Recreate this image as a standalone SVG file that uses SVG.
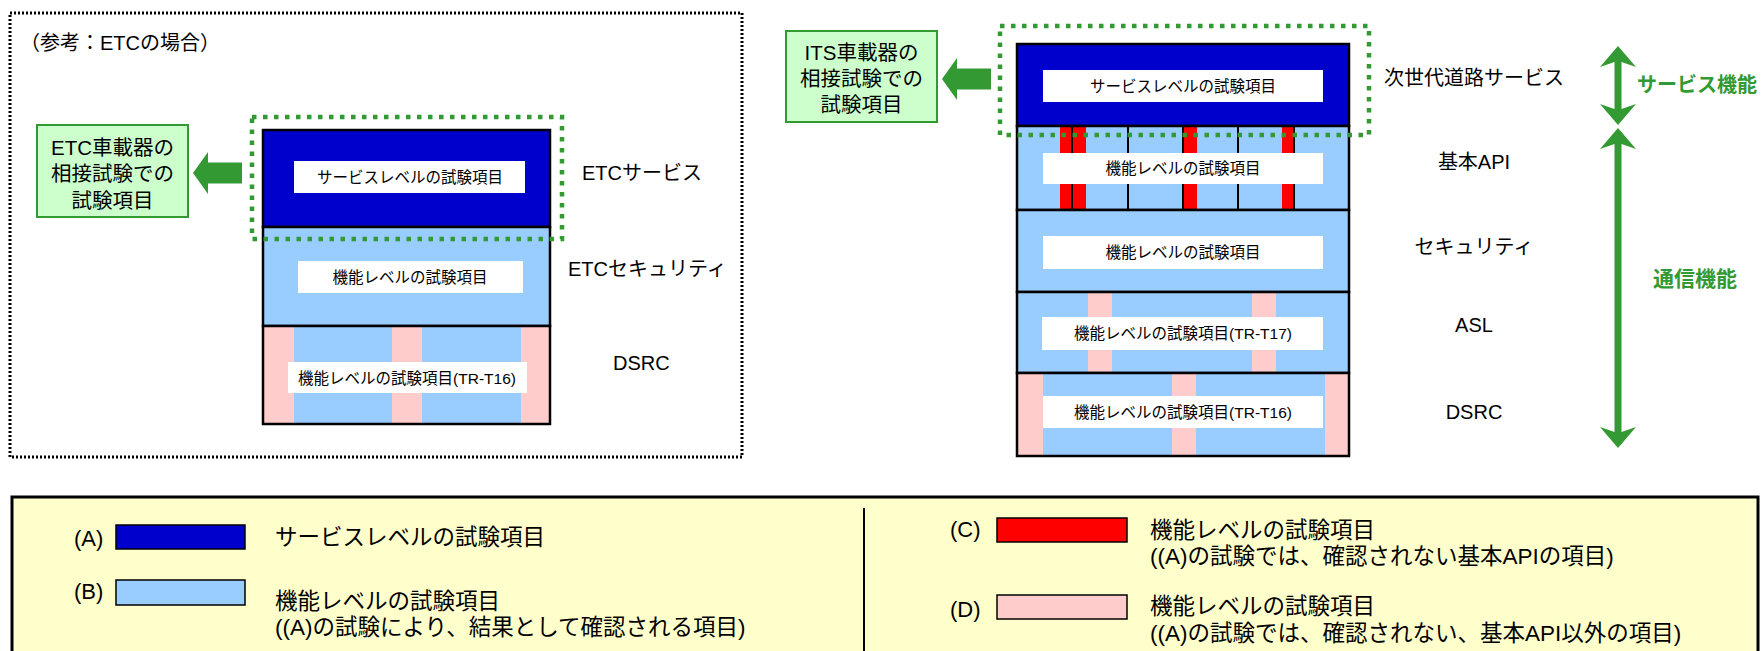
<svg xmlns="http://www.w3.org/2000/svg" width="1762" height="651" viewBox="0 0 1762 651">
<style>
text{font-family:"Liberation Sans","Noto Sans CJK JP",sans-serif;fill:#000;dominant-baseline:central}
.t16{font-size:15.5px;text-anchor:middle}
.lab{font-size:20px}
.mid{text-anchor:middle}
.box{stroke:#000;stroke-width:2.5}
.ol{fill:none;stroke:#000;stroke-width:2.5}
.vl{stroke:#000;stroke-width:2}
.dblue{fill:#0000cc}
.lblue{fill:#99ccff}
.red{fill:#ff0000}
.pink{fill:#ffcccc}
.white{fill:#ffffff}
.gdot{fill:none;stroke:#339933;stroke-width:4.5;stroke-dasharray:4.5 6.5}
.garrow{fill:#339933}
.gbox{fill:#ccffcc;stroke:#339933;stroke-width:2}
.gtext{font-size:20.5px;text-anchor:middle}
.leg{font-size:22.5px}
.key{font-size:22px}
.sw{stroke:#000;stroke-width:1.5}
.green{fill:#339933;font-weight:bold}
</style>

<!-- Left panel (ETC reference) -->
<g id="etc-panel">
  <rect x="10" y="13" width="732" height="444" fill="none" stroke="#000" stroke-width="3" stroke-dasharray="2 2"/>
  <text x="20" y="43" style="font-size:20px">（参考：ETCの場合）</text>
</g>

<g id="etc-test-box">
  <rect class="gbox" x="37" y="125" width="151" height="92"/>
  <text class="gtext" x="112.5" y="147">ETC車載器の</text>
  <text class="gtext" x="112.5" y="173">相接試験での</text>
  <text class="gtext" x="112.5" y="200">試験項目</text>
</g>

<g id="etc-service">
  <rect class="box dblue" x="263" y="130" width="287" height="97"/>
  <rect class="white" x="294" y="161" width="231" height="32"/>
  <text class="t16" x="410" y="177">サービスレベルの試験項目</text>
  <text class="lab" x="582" y="173">ETCサービス</text>
</g>

<g id="etc-security">
  <rect class="box lblue" x="263" y="227" width="287" height="99"/>
  <rect class="white" x="298" y="261" width="225" height="32"/>
  <text class="t16" x="410" y="277">機能レベルの試験項目</text>
  <text class="lab" x="568" y="269">ETCセキュリティ</text>
</g>

<g id="etc-dsrc">
  <rect class="lblue" x="263" y="326" width="287" height="98"/>
  <rect class="pink" x="263" y="326" width="31" height="98"/>
  <rect class="pink" x="392" y="326" width="30" height="98"/>
  <rect class="pink" x="521" y="326" width="29" height="98"/>
  <rect class="ol" x="263" y="326" width="287" height="98"/>
  <rect class="white" x="288" y="362" width="239" height="31"/>
  <text class="t16" x="407" y="378">機能レベルの試験項目(TR-T16)</text>
  <text class="lab" x="613" y="363">DSRC</text>
</g>

<g id="etc-service-scope">
  <rect class="gdot" x="252" y="117" width="310" height="122"/>
</g>

<!-- Right panel (ITS) -->
<g id="its-test-box">
  <rect class="gbox" x="786" y="31" width="151" height="91"/>
  <text class="gtext" x="861.5" y="52">ITS車載器の</text>
  <text class="gtext" x="861.5" y="78">相接試験での</text>
  <text class="gtext" x="861.5" y="104">試験項目</text>
</g>

<g id="its-service">
  <rect class="box dblue" x="1017" y="44" width="332" height="82"/>
  <rect class="white" x="1043" y="70" width="280" height="32"/>
  <text class="t16" x="1183" y="86">サービスレベルの試験項目</text>
  <text class="lab mid" x="1474" y="78">次世代道路サービス</text>
</g>

<g id="its-api">
  <rect class="lblue" x="1017" y="126" width="332" height="84"/>
  <rect class="red" x="1060" y="126" width="12" height="84"/>
  <rect class="red" x="1072" y="126" width="14" height="84"/>
  <rect class="red" x="1183" y="126" width="14" height="84"/>
  <rect class="red" x="1282" y="126" width="12" height="84"/>
  <line class="vl" x1="1072" y1="126" x2="1072" y2="210"/>
  <line class="vl" x1="1128" y1="126" x2="1128" y2="210"/>
  <line class="vl" x1="1183" y1="126" x2="1183" y2="210"/>
  <line class="vl" x1="1238" y1="126" x2="1238" y2="210"/>
  <line class="vl" x1="1294" y1="126" x2="1294" y2="210"/>
  <rect class="ol" x="1017" y="126" width="332" height="84"/>
  <rect class="white" x="1043" y="153" width="280" height="31"/>
  <text class="t16" x="1183" y="168.5">機能レベルの試験項目</text>
  <text class="lab mid" x="1474" y="162">基本API</text>
</g>

<g id="its-security">
  <rect class="box lblue" x="1017" y="210" width="332" height="82"/>
  <rect class="white" x="1043" y="236" width="280" height="33"/>
  <text class="t16" x="1183" y="252.5">機能レベルの試験項目</text>
  <text class="lab mid" x="1474" y="247">セキュリティ</text>
</g>

<g id="its-asl">
  <rect class="lblue" x="1017" y="292" width="332" height="81"/>
  <rect class="pink" x="1088" y="293" width="24" height="79"/>
  <rect class="pink" x="1252" y="293" width="24" height="79"/>
  <rect class="ol" x="1017" y="292" width="332" height="81"/>
  <rect class="white" x="1042" y="317" width="281" height="33"/>
  <text class="t16" x="1183" y="333.5">機能レベルの試験項目(TR-T17)</text>
  <text class="lab mid" x="1474" y="325">ASL</text>
</g>

<g id="its-dsrc">
  <rect class="lblue" x="1017" y="373" width="332" height="83"/>
  <rect class="pink" x="1018" y="374" width="25" height="82"/>
  <rect class="pink" x="1172" y="374" width="24" height="82"/>
  <rect class="pink" x="1325" y="374" width="24" height="82"/>
  <rect class="ol" x="1017" y="373" width="332" height="83"/>
  <rect class="white" x="1043" y="396" width="280" height="32"/>
  <text class="t16" x="1183" y="412">機能レベルの試験項目(TR-T16)</text>
  <text class="lab mid" x="1474" y="412">DSRC</text>
</g>

<g id="its-service-scope">
  <rect class="gdot" x="1000" y="26" width="369" height="109"/>
</g>

<g id="connectors">
  <path class="garrow" d="M193,173 L208,152 L208,162.5 L242,162.5 L242,183.5 L208,183.5 L208,194 Z"/>
  <path class="garrow" d="M942,79 L957,58 L957,68.5 L991,68.5 L991,89.5 L957,89.5 L957,100 Z"/>
  <path class="garrow" d="M1618,46 L1636,67 L1621.5,62 L1621.5,109 L1636,104 L1618,125 L1600,104 L1614.5,109 L1614.5,62 L1600,67 Z"/>
  <path class="garrow" d="M1618,128 L1636,149 L1621.5,144 L1621.5,432 L1636,427 L1618,448 L1600,427 L1614.5,432 L1614.5,144 L1600,149 Z"/>
</g>

<g id="scope-labels">
  <text class="green" x="1637" y="85" style="font-size:20px">サービス機能</text>
  <text class="green" x="1653" y="278" style="font-size:21px">通信機能</text>
</g>

<!-- Legend -->
<g id="legend">
  <rect x="12" y="497" width="1746" height="170" fill="#ffffcc" stroke="#000" stroke-width="3"/>
  <line x1="864" y1="508" x2="864" y2="651" stroke="#000" stroke-width="2"/>

  <text class="key" x="74" y="538">(A)</text>
  <rect class="sw dblue" x="116" y="525" width="129" height="24"/>
  <text class="leg" x="275" y="537">サービスレベルの試験項目</text>

  <text class="key" x="74" y="591">(B)</text>
  <rect class="sw lblue" x="116" y="580" width="129" height="25"/>
  <text class="leg" x="275" y="601">機能レベルの試験項目</text>
  <text class="leg" x="275" y="627">((A)の試験により、結果として確認される項目)</text>

  <text class="key" x="950" y="529">(C)</text>
  <rect class="sw red" x="997" y="518" width="130" height="24"/>
  <text class="leg" x="1150" y="530">機能レベルの試験項目</text>
  <text class="leg" x="1150" y="556">((A)の試験では、確認されない基本APIの項目)</text>

  <text class="key" x="950" y="609">(D)</text>
  <rect class="sw pink" x="997" y="595" width="130" height="24"/>
  <text class="leg" x="1150" y="606">機能レベルの試験項目</text>
  <text class="leg" x="1150" y="633">((A)の試験では、確認されない、基本API以外の項目)</text>
</g>
</svg>
